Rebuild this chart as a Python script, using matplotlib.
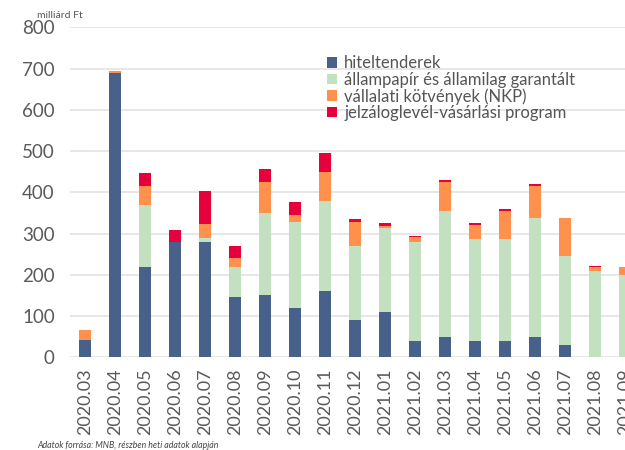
import numpy as np
import matplotlib.pyplot as plt

months = ["2020.03", "2020.04", "2020.05", "2020.06", "2020.07", "2020.08",
          "2020.09", "2020.10", "2020.11", "2020.12", "2021.01", "2021.02",
          "2021.03", "2021.04", "2021.05", "2021.06", "2021.07", "2021.08",
          "2021.09"]

hiteltender = [42, 690, 220, 280, 280, 145, 150, 120, 160, 90, 110, 40,
               50, 40, 40, 50, 30, 0, 0]
allampapir = [0, 0, 149, 0, 10, 75, 200, 207, 219, 181, 204, 240,
              305, 247, 246, 288, 216, 209, 200]
kotveny = [23, 4, 46, 0, 34, 20, 76, 18, 70, 58, 5, 11,
           71, 34, 69, 77, 91, 9, 18]
jelzalog = [0, 0, 31, 28, 80, 30, 30, 31, 46, 6, 6, 4,
            5, 5, 5, 5, 1, 3, 0]

series = [
    ("hiteltenderek", hiteltender, "#48618a"),
    ("állampapír és államilag garantált", allampapir, "#c3e0c1"),
    ("vállalati kötvények (NKP)", kotveny, "#ff914d"),
    ("jelzáloglevél-vásárlási program", jelzalog, "#e6003c"),
]

plt.rcParams['font.family'] = ['Lato', 'DejaVu Sans']

fig = plt.figure(figsize=(6.25, 4.5), dpi=100)
# axes deliberately runs past the right edge, like the original crop
ax = fig.add_axes([70 / 625, 1 - 357.3 / 450, 570 / 625, 330 / 450])

x = np.arange(len(months))
bottom = np.zeros(len(months))
for name, vals, col in series:
    vals = np.array(vals, dtype=float)
    ax.bar(x, vals, 0.42, bottom=bottom, color=col, label=name, zorder=3)
    bottom += vals

ax.set_xlim(-0.5, len(months) - 0.5)
ax.set_ylim(0, 800)
ax.set_yticks(np.arange(0, 801, 100))
ax.set_xticks(x)
ax.set_xticklabels(months, rotation=90)
ax.tick_params(axis='both', length=0, colors="#5a5a5a")
ax.tick_params(axis='y', pad=11, labelsize=13.5)
ax.tick_params(axis='x', pad=8, labelsize=13)
ax.grid(axis='y', color="#e3e3e3", linewidth=1.2, zorder=0)
for s in ax.spines.values():
    s.set_visible(False)

ax.legend(loc='upper left', bbox_to_anchor=(0.44, 0.935), frameon=False,
          fontsize=12, handlelength=0.6, handleheight=0.6,
          handletextpad=0.4, labelspacing=0.02, labelcolor="#555555",
          borderaxespad=0)

fig.text(37 / 625, 1 - 16 / 450, "milliárd Ft", fontsize=7.5, color="#555555",
         va='center')
fig.text(37 / 625, 1 - 446 / 450,
         "Adatok forrása: MNB, részben heti adatok alapján",
         fontsize=6.3, style='italic', color="#444444", va='center')

fig.savefig("out.png", dpi=100)
